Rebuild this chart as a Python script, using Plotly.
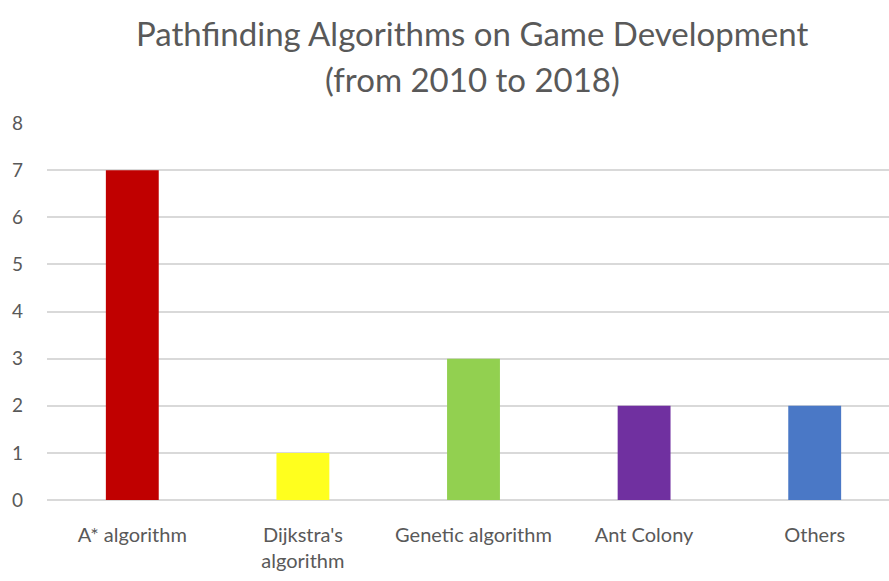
import plotly.graph_objects as go

categories = ["A* algorithm", "Dijkstra's<br>algorithm", "Genetic algorithm", "Ant Colony", "Others"]
values = [7, 1, 3, 2, 2]
colors = ["#C00000", "#FFFF1E", "#92D050", "#7030A0", "#4A78C6"]
y_ticks = [0, 1, 2, 3, 4, 5, 6, 7, 8]

W, H = 889, 581
left, right_px = 47, 900  # plot extends slightly beyond the image edge
n = len(categories)
step = (right_px - left) / n
x_max = -0.5 + (W - left) / step

font_family = "Lato, 'Open Sans', sans-serif"
grey = "#595959"

fig = go.Figure(go.Bar(
    x=list(range(n)), y=values,
    marker=dict(color=colors, line=dict(width=0)),
    width=0.31,
))

fig.update_layout(
    width=W, height=H,
    margin=dict(l=left, r=0, t=123, b=81),
    paper_bgcolor="white", plot_bgcolor="white",
    showlegend=False,
    font=dict(family=font_family, color=grey),
    xaxis=dict(
        range=[-0.5, x_max], tickmode="array",
        tickvals=list(range(n)), ticktext=categories,
        showgrid=False, zeroline=False, showline=False, ticks="",
        ticklabelstandoff=21,
        tickfont=dict(size=20, color=grey), fixedrange=True,
    ),
    yaxis=dict(
        range=[0, 8], tickmode="array", tickvals=y_ticks,
        showgrid=True, gridcolor="#D9D9D9", gridwidth=1.5,
        zeroline=True, zerolinecolor="#D9D9D9", zerolinewidth=1.5,
        showline=False, ticks="", ticklabelstandoff=23,
        tickfont=dict(size=19, color=grey), fixedrange=True,
    ),
    annotations=[
        dict(text="Pathfinding Algorithms on Game Development", xref="paper", yref="paper",
             x=(472 - left) / (W - left), y=(581 - 33) / 581, yanchor="middle",
             showarrow=False, font=dict(size=33, color=grey, family=font_family)),
        dict(text="(from 2010 to 2018)", xref="paper", yref="paper",
             x=(472 - left) / (W - left), y=(581 - 79) / 581, yanchor="middle",
             showarrow=False, font=dict(size=33, color=grey, family=font_family)),
    ],
)
# convert annotation y (given in container fractions) to paper coords
plot_h = H - 123 - 81
for a in fig.layout.annotations:
    py = H * (1 - a.y)  # pixel from top
    a.y = (H - 81 - py) / plot_h
    a.yref = "paper"

fig.write_html("out.html")
